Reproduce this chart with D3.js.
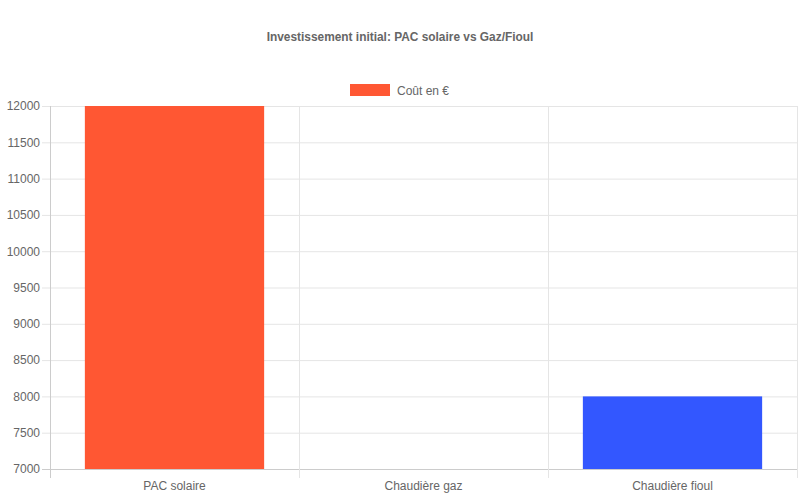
<!DOCTYPE html>
<html>
<head>
<meta charset="utf-8">
<script src="https://cdn.jsdelivr.net/npm/d3@7"></script>
<style>
    body { margin: 0; background: #fff; }
    text { font-family: "Liberation Sans", Arial, sans-serif; }
</style>
</head>
<body>
<script>
// chart data
var categories = ["PAC solaire", "Chaudière gaz", "Chaudière fioul"];
var costs = [12000, 7000, 8000];
var barColors = ["#FF5733", "#33FF57", "#3357FF"];
var yTicks = [7000, 7500, 8000, 8500, 9000, 9500, 10000, 10500, 11000, 11500, 12000];
var chartTitle = "Investissement initial: PAC solaire vs Gaz/Fioul";
var legendLabel = "Coût en €";

function init() {
    var svg, xScale, yScale, xAxis, yAxis, legend;

    //dimensions
    const fullWidth = 800, fullHeight = 500;
    const margin = { top: 106, right: 3, bottom: 31, left: 50 };
    const width = fullWidth - margin.left - margin.right;
    const height = fullHeight - margin.top - margin.bottom;

    svg = d3.select("body")
        .append("svg")
        .attr("width", fullWidth)
        .attr("height", fullHeight);

    //title
    svg.append("text")
        .attr("x", fullWidth / 2)
        .attr("y", 41)
        .attr("text-anchor", "middle")
        .style("font-size", "11.9px")
        .style("font-weight", "bold")
        .style("fill", "#666")
        .text(chartTitle);

    //legend
    legend = svg.append("g").attr("transform", "translate(350,84)");
    legend.append("rect")
        .attr("width", 40)
        .attr("height", 12)
        .style("fill", barColors[0]);
    legend.append("text")
        .attr("x", 47)
        .attr("y", 10.5)
        .style("font-size", "12px")
        .style("fill", "#666")
        .text(legendLabel);

    var g = svg.append("g")
        .attr("transform", "translate(" + margin.left + "," + margin.top + ")");

    //scales
    xScale = d3.scaleBand()
        .domain(categories)
        .range([0, width])
        .paddingInner(0)
        .paddingOuter(0);

    yScale = d3.scaleLinear()
        .domain([d3.min(yTicks), d3.max(yTicks)])
        .range([height, 0]);

    //horizontal grid lines
    g.append("g")
        .selectAll("line")
        .data(yTicks)
        .enter()
        .append("line")
        .attr("x1", -8)
        .attr("x2", width)
        .attr("y1", function (d) { return yScale(d) + 0.5; })
        .attr("y2", function (d) { return yScale(d) + 0.5; })
        .style("stroke", function (d) { return d === yTicks[0] ? "#ccc" : "#e5e5e5"; })
        .style("stroke-width", 1);

    //vertical grid lines
    g.append("g")
        .selectAll("line")
        .data(categories)
        .enter()
        .append("line")
        .attr("x1", function (d) { return xScale(d) + xScale.bandwidth() + 0.5; })
        .attr("x2", function (d) { return xScale(d) + xScale.bandwidth() + 0.5; })
        .attr("y1", 0)
        .attr("y2", height + 9)
        .style("stroke", "#e5e5e5")
        .style("stroke-width", 1);

    //bars
    g.append("g")
        .selectAll("rect")
        .data(costs)
        .enter()
        .append("rect")
        .attr("x", function (d, i) { return xScale(categories[i]) + xScale.bandwidth() * 0.14; })
        .attr("width", xScale.bandwidth() * 0.72)
        .attr("y", function (d) { return yScale(Math.min(d, yScale.domain()[1])); })
        .attr("height", function (d) { return Math.max(0, height - yScale(d)); })
        .style("fill", function (d, i) { return barColors[i]; });

    //y axis
    yAxis = d3.axisLeft(yScale)
        .tickValues(yTicks)
        .tickFormat(d3.format("d"))
        .tickSize(0)
        .tickPadding(10);

    var yAx = g.append("g").call(yAxis);
    yAx.select(".domain").remove();
    yAx.selectAll("text")
        .style("font-size", "12px")
        .style("fill", "#666")
        .style("font-family", "'Liberation Sans', Arial, sans-serif");

    g.append("line")
        .attr("x1", 0.5).attr("x2", 0.5)
        .attr("y1", 0).attr("y2", height + 9)
        .style("stroke", "#ccc");

    //x axis
    xAxis = d3.axisBottom(xScale)
        .tickSize(0)
        .tickPadding(12);

    var xAx = g.append("g")
        .attr("transform", "translate(0," + height + ")")
        .call(xAxis);
    xAx.select(".domain").remove();
    xAx.selectAll("text")
        .style("font-size", "12px")
        .style("fill", "#666")
        .style("font-family", "'Liberation Sans', Arial, sans-serif");
}

window.onload = init;
</script>
</body>
</html>
